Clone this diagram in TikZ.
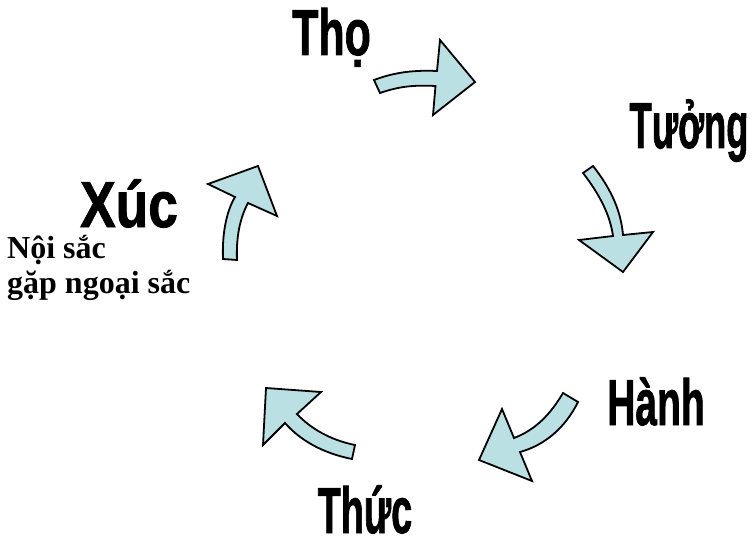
\documentclass[tikz,border=0pt]{standalone}
\usepackage{fontspec}
\usepackage{graphicx}
\setmainfont{Liberation Serif}
\newfontfamily\labelfont{Liberation Sans}[BoldFeatures={FakeBold=1.5}]
\definecolor{arrowfill}{RGB}{187,224,227}
\tikzset{
    step label/.style={anchor=base,inner sep=0pt,
        font=\labelfont\bfseries\fontsize{65}{70}\selectfont},
    note/.style={anchor=base west,inner sep=0pt,
        font=\rmfamily\bfseries\fontsize{32}{35}\selectfont},
    block arrow/.style={draw=black,fill=arrowfill,line width=1.8pt,line join=miter}
}
\begin{document}
\begin{tikzpicture}[x=1pt,y=-1pt]
    \useasboundingbox (0,0) rectangle (754,540);
    % labels round the cycle
    \node[step label] (tho)   at (331.5,55) {\scalebox{0.66}[1]{Thọ}};
    \node[step label] (tuong) at (689,148)  {\scalebox{0.56}[1]{Tưởng}};
    \node[step label] (hanh)  at (656,425)  {\scalebox{0.6}[1]{Hành}};
    \node[step label] (thuc)  at (365,533)  {\scalebox{0.58}[1]{Thức}};
    \node[step label] (xuc)   at (129,227)  {\scalebox{0.82}[1]{Xúc}};
    \node[note] (noi) at (7,258) {Nội sắc};
    \node[note] (gap) at (7,293) {gặp ngoại sắc};
    % Tho -> Tuong
    \draw[block arrow] (374,80) .. controls (395,72) and (415,70) .. (437,71)
        -- (440,40) -- (475,82) -- (433,115) -- (435.5,86)
        .. controls (415,85) and (400,86) .. (380,93) -- cycle;
    % Tuong -> Hanh
    \draw[block arrow] (593,166) .. controls (612,190) and (621,212) .. (623,235)
        -- (653,232) -- (623,272) -- (579,240) -- (613,236)
        .. controls (610,215) and (600,195) .. (583,173) -- cycle;
    % Hanh -> Thuc
    \draw[block arrow] (578,402) .. controls (565,428) and (545,445) .. (520,452)
        -- (532,481) -- (479,460) -- (502,409) -- (514,438)
        .. controls (535,430) and (550,415) .. (563,393) -- cycle;
    % Thuc -> Xuc
    \draw[block arrow] (352,459) .. controls (322,453) and (300,440) .. (285,423)
        -- (263,445) -- (266,388) -- (321,392) -- (297,414)
        .. controls (310,428) and (330,440) .. (355,445) -- cycle;
    % Xuc -> Tho
    \draw[block arrow] (223,259) .. controls (222,235) and (226,212) .. (235,197)
        -- (208,184) -- (258,166) -- (277,216) -- (248,203)
        .. controls (240,218) and (236,237) .. (237,260) -- cycle;
\end{tikzpicture}
\end{document}
